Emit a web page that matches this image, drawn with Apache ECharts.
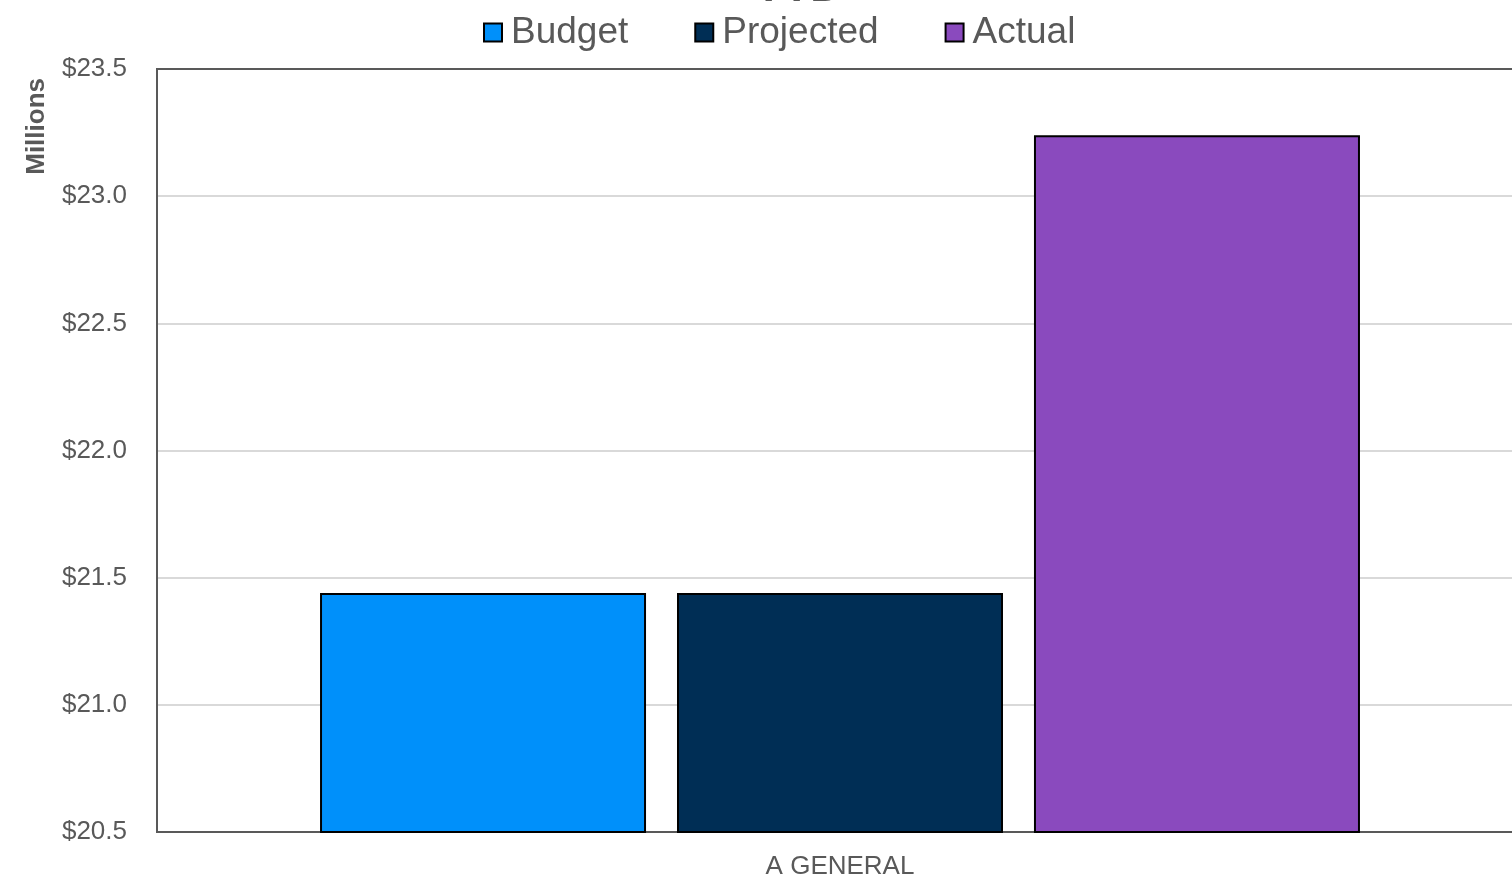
<!DOCTYPE html>
<html><head><meta charset="utf-8">
<script src="https://cdn.jsdelivr.net/npm/echarts@6/dist/echarts.min.js"></script>
<style>html,body{margin:0;padding:0;background:#fff;overflow:hidden}#c{width:1540px;height:884px}</style>
</head><body><div id="c"></div>
<script>
const categories = ['A GENERAL'];
const budget = [21.44];
const projected = [21.44];
const actual = [23.24];
const seriesNames = ['Budget', 'Projected', 'Actual'];
const colors = ['#0090FA', '#002E55', '#8A4ABE'];
const yMin = 20.5, yMax = 23.5, yStep = 0.5;

const chart = echarts.init(document.getElementById('c'));
const font = 'Liberation Sans, Arial, sans-serif';
const mk = (name, data, color) => ({
  name, type: 'bar', data, barWidth: 326, barGap: '9.5%',
  itemStyle: { color, borderColor: '#000', borderWidth: 2 }
});
chart.setOption({
  animation: false,
  title: { text: 'YTD', left: 793, textAlign: 'center', top: -38, textStyle: { fontFamily: font, fontSize: 44, color: '#595959', fontWeight: 'bold' } },
  legend: {
    top: 9, left: 478, itemWidth: 18, itemHeight: 18, itemGap: 66,
    icon: 'rect',
    textStyle: { fontFamily: font, fontSize: 37, color: '#595959', padding: [0, 0, 0, 4] },
    itemStyle: { borderColor: '#000', borderWidth: 2 },
    data: seriesNames
  },
  grid: { left: 157, right: 17, top: 69, bottom: 52, show: true, borderColor: '#595959', borderWidth: 2 },
  xAxis: [{
    type: 'category', data: categories,
    axisLine: { lineStyle: { color: '#595959', width: 2 } },
    axisTick: { show: false },
    axisLabel: { fontFamily: font, fontSize: 26, color: '#595959', margin: 22 }
  }, {
    type: 'category', data: categories, position: 'top',
    axisLine: { show: true, lineStyle: { color: '#595959', width: 2 } },
    axisTick: { show: false }, axisLabel: { show: false }
  }],
  yAxis: {
    type: 'value', min: yMin, max: yMax, interval: yStep,
    axisLine: { show: true, lineStyle: { color: '#595959', width: 2 } },
    axisTick: { show: false },
    splitLine: { lineStyle: { color: '#d9d9d9', width: 2 } },
    axisLabel: { fontFamily: font, fontSize: 26, color: '#595959', margin: 30, formatter: v => '$' + v.toFixed(1) }
  },
  graphic: [{
    type: 'text', left: 24, top: 78, rotation: Math.PI / 2,
    style: { text: 'Millions', fontFamily: font, fontSize: 26, fontWeight: 'bold', fill: '#595959' }
  }],
  series: [mk(seriesNames[0], budget, colors[0]), mk(seriesNames[1], projected, colors[1]), mk(seriesNames[2], actual, colors[2])]
});
</script></body></html>
